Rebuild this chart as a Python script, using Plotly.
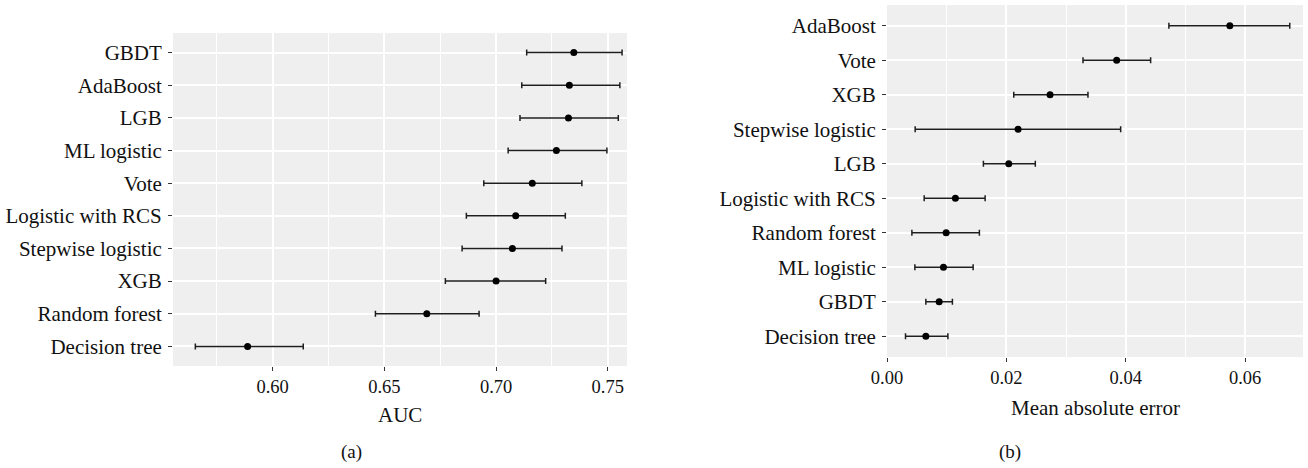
import plotly.graph_objects as go

# ---- Panel (a): AUC ----
auc_models = ["Decision tree", "Random forest", "XGB", "Stepwise logistic", "Logistic with RCS",
              "Vote", "ML logistic", "LGB", "AdaBoost", "GBDT"]
auc_mean = [0.5888, 0.6690, 0.7000, 0.7073, 0.7088, 0.7162, 0.7270, 0.7324, 0.7328, 0.7348]
auc_low = [0.5654, 0.6460, 0.6773, 0.6848, 0.6867, 0.6945, 0.7054, 0.7107, 0.7115, 0.7137]
auc_high = [0.6137, 0.6924, 0.7222, 0.7295, 0.7310, 0.7384, 0.7496, 0.7547, 0.7554, 0.7564]

# ---- Panel (b): Mean absolute error ----
mae_models = ["Decision tree", "GBDT", "ML logistic", "Random forest", "Logistic with RCS",
              "LGB", "Stepwise logistic", "XGB", "Vote", "AdaBoost"]
mae_mean = [0.00651, 0.00874, 0.00946, 0.00991, 0.01146, 0.0204, 0.02196, 0.02732, 0.03848, 0.05744]
mae_low = [0.0031, 0.00651, 0.00467, 0.00417, 0.00623, 0.01615, 0.00472, 0.02124, 0.03284, 0.04723]
mae_high = [0.0102, 0.01096, 0.01443, 0.01548, 0.01644, 0.02485, 0.03915, 0.03367, 0.04417, 0.06748]

FONT = "Liberation Serif, DejaVu Serif, serif"
TXT = "#111111"
BG = "#EFEFEF"

fig = go.Figure()

def add_panel(models, mean, low, high, xa, ya):
    fig.add_trace(go.Scatter(
        x=mean, y=models, mode="markers",
        marker=dict(color="black", size=7),
        error_x=dict(type="data", symmetric=False,
                     array=[h - m for h, m in zip(high, mean)],
                     arrayminus=[m - l for m, l in zip(mean, low)],
                     color="#1e1e1e", thickness=1.5, width=3),
        xaxis=xa, yaxis=ya, showlegend=False, hoverinfo="skip"))

add_panel(auc_models, auc_mean, auc_low, auc_high, "x", "y")
add_panel(mae_models, mae_mean, mae_low, mae_high, "x2", "y2")

W, H = 1308, 468
def px_x(a, b):
    return [a / W, b / W]
def px_y(top, bottom):
    return [1 - bottom / H, 1 - top / H]

common_x = dict(showgrid=True, gridcolor="white", gridwidth=1.5, zeroline=False,
                ticks="outside", ticklen=4, tickcolor="#333333", tickwidth=1,
                tickfont=dict(family=FONT, size=18.5, color=TXT), showline=False,
                tickformat=".2f", automargin=False)
common_y = dict(type="category", showgrid=True, gridcolor="white", gridwidth=1.5,
                zeroline=False, ticks="outside", ticklen=4, tickcolor="#333333",
                tickwidth=1, tickfont=dict(family=FONT, size=21, color=TXT),
                showline=False, range=[-0.6, 9.6], ticklabelstandoff=2, automargin=False)

fig.update_layout(
    width=W, height=H, margin=dict(l=0, r=0, t=0, b=0),
    paper_bgcolor="white", plot_bgcolor=BG,
    xaxis=dict(domain=px_x(173, 627), anchor="y", range=[0.5554, 0.7586],
               tick0=0.60, dtick=0.05,
               minor=dict(showgrid=True, gridcolor="white", gridwidth=0.7, dtick=0.025, tick0=0.575),
               **common_x),
    yaxis=dict(domain=px_y(33, 366), anchor="x", categoryorder="array",
               categoryarray=auc_models, **common_y),
    xaxis2=dict(domain=px_x(887, 1303), anchor="y2", range=[0, 0.0697],
                tick0=0, dtick=0.02,
                minor=dict(showgrid=True, gridcolor="white", gridwidth=0.7, dtick=0.01, tick0=0),
                **common_x),
    yaxis2=dict(domain=px_y(5, 357), anchor="x2", categoryorder="array",
                categoryarray=mae_models, **common_y),
)

annots = [
    dict(text="AUC", x=400, y=415, size=21),
    dict(text="Mean absolute error", x=1095, y=408, size=21),
    dict(text="(a)", x=352, y=452, size=19),
    dict(text="(b)", x=1010, y=452, size=19),
]
for a in annots:
    fig.add_annotation(text=a["text"], x=a["x"] / W, y=1 - a["y"] / H, xref="paper", yref="paper",
                       showarrow=False, xanchor="center", yanchor="middle",
                       font=dict(family=FONT, size=a["size"], color=TXT))

fig.write_html("out.html")
